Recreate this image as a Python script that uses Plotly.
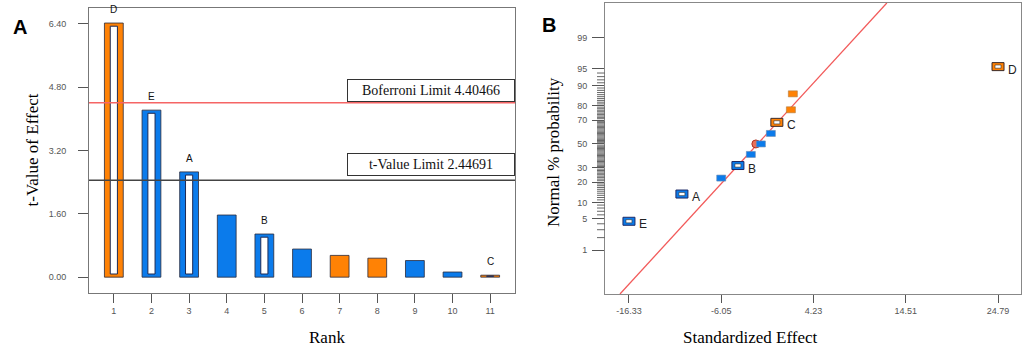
import plotly.graph_objects as go
from statistics import NormalDist

# ---------------- Panel A data (Pareto chart) ----------------
ranks = [1, 2, 3, 4, 5, 6, 7, 8, 9, 10, 11]
t_values = [6.42, 4.22, 2.66, 1.57, 1.09, 0.71, 0.55, 0.48, 0.42, 0.13, 0.05]
bar_signs = ['pos', 'neg', 'neg', 'neg', 'neg', 'neg', 'pos', 'pos', 'neg', 'neg', 'pos']
bar_labels = ['D', 'E', 'A', '', 'B', '', '', '', '', '', 'C']
bar_hollow = [True, True, True, False, True, False, False, False, False, False, True]
bonferroni_limit = 4.40466
t_limit = 2.44691
a_yticks = [0, 1.6, 3.2, 4.8, 6.4]
a_yticklabels = ['0.00', '1.60', '3.20', '4.80', '6.40']

# ---------------- Panel B data (normal plot) ----------------
effects = [-16.33, -10.43, -6.05, -4.19, -2.75, -1.63, -0.52, 0.15, 1.71, 1.93, 24.79]
effect_prob = [4.5, 13.6, 22.7, 31.8, 40.9, 50.0, 59.1, 68.2, 77.3, 86.4, 95.5]
effect_signs = ['neg', 'neg', 'neg', 'neg', 'neg', 'neg', 'neg', 'pos', 'pos', 'pos', 'pos']
effect_labels = ['E', 'A', '', 'B', '', '', '', 'C', '', '', 'D']
center_effect = -2.19
center_prob = 50.0
fit_mean = -2.0
fit_sd = 4.66
b_xticks = [-16.33, -6.05, 4.23, 14.51, 24.79]
b_xticklabels = ['-16.33', '-6.05', '4.23', '14.51', '24.79']
b_prob_ticks = [1, 5, 10, 20, 30, 50, 70, 80, 90, 95, 99]
b_minor_probs = [2, 3, 4] + list(range(6, 10)) + list(range(11, 20)) + list(range(21, 30)) + \
    list(range(31, 50)) + list(range(51, 70)) + list(range(71, 80)) + list(range(81, 90)) + \
    list(range(91, 95))

ORANGE = '#FF8205'
BLUE = '#0B7BEB'
EDGE = '#2a2a3a'
colmap = {'pos': ORANGE, 'neg': BLUE}

nd = NormalDist()
def zq(p):
    return nd.inv_cdf(p / 100.0)

W, H = 1024, 360
def px_x(p):
    return p / W
def px_y(p):
    return 1 - p / H

fig = go.Figure()

# ---- Panel A bars ----
fig.add_trace(go.Bar(
    x=ranks, y=t_values, width=0.5,
    marker=dict(color=[colmap[s] for s in bar_signs], line=dict(color=EDGE, width=0.8)),
    xaxis='x', yaxis='y', showlegend=False, hoverinfo='x+y'))

hx, hbase, hh = [], [], []
for r, v, h in zip(ranks, t_values, bar_hollow):
    if h:
        b = min(0.08, v * 0.4)
        hx.append(r)
        hbase.append(b)
        hh.append(max(v - 2 * b, 0.005))
fig.add_trace(go.Bar(
    x=hx, y=hh, base=hbase, width=0.19,
    marker=dict(color='white', line=dict(color='#1d2a55', width=1)),
    xaxis='x', yaxis='y', showlegend=False, hoverinfo='skip'))

annotations = []
for r, v, lab in zip(ranks, t_values, bar_labels):
    if lab:
        annotations.append(dict(x=r, y=v, xref='x', yref='y', text=lab, showarrow=False,
                                yanchor='bottom', yshift=6,
                                font=dict(family='Arial', size=10, color='#111')))

shapes = []
shapes.append(dict(type='line', xref='x domain', yref='y', x0=0, x1=1,
                   y0=bonferroni_limit, y1=bonferroni_limit,
                   line=dict(color='#F56565', width=1.5)))
shapes.append(dict(type='line', xref='x domain', yref='y', x0=0, x1=1,
                   y0=t_limit, y1=t_limit,
                   line=dict(color='#444444', width=1.5)))

annotations.append(dict(x=1, xref='x domain', y=bonferroni_limit, yref='y',
                        xanchor='right', yanchor='bottom', yshift=1,
                        text='Boferroni Limit 4.40466', showarrow=False,
                        width=160, borderpad=3, borderwidth=1, bordercolor='#333',
                        bgcolor='white', align='center',
                        font=dict(family='Liberation Serif', size=14, color='#111')))
annotations.append(dict(x=1, xref='x domain', y=t_limit, yref='y',
                        xanchor='right', yanchor='bottom', yshift=4,
                        text='t-Value Limit 2.44691', showarrow=False,
                        width=160, borderpad=3, borderwidth=1, bordercolor='#333',
                        bgcolor='white', align='center',
                        font=dict(family='Liberation Serif', size=14, color='#111')))

# ---- Panel B ----
zr = [-3.29, 3.09]
fig.add_trace(go.Scatter(
    x=[fit_mean + fit_sd * z for z in zr], y=zr, mode='lines',
    line=dict(color='#F25A5A', width=1.3), xaxis='x2', yaxis='y2',
    showlegend=False, hoverinfo='skip'))
fig.add_trace(go.Scatter(
    x=[center_effect], y=[zq(center_prob)], mode='markers',
    marker=dict(symbol='circle', size=8, color='#E8705A', line=dict(color='#B03020', width=1)),
    xaxis='x2', yaxis='y2', showlegend=False, hoverinfo='skip'))
ez = [zq(p) for p in effect_prob]
fig.add_trace(go.Scatter(
    x=effects, y=ez, mode='markers',
    marker=dict(symbol='square', size=6, color=[colmap[s] for s in effect_signs], opacity=0),
    xaxis='x2', yaxis='y2', showlegend=False, hoverinfo='x+y'))

# minor tick comb on the probability axis
for p in b_minor_probs:
    zp = zq(p)
    shapes.append(dict(type='line', xref='x2 domain', yref='y2', xsizemode='pixel',
                       xanchor=0, x0=-8, x1=0, y0=zp, y1=zp,
                       line=dict(color='#666', width=1)))

for e, z, s, lab in zip(effects, ez, effect_signs, effect_labels):
    c = colmap[s]
    if lab:
        shapes.append(dict(type='rect', xref='x2', yref='y2', xsizemode='pixel', ysizemode='pixel',
                           xanchor=e, yanchor=z, x0=-6, x1=6, y0=-4, y1=4,
                           fillcolor=c, line=dict(color='#3a2a2a' if s == 'pos' else '#1d2a66', width=1)))
        shapes.append(dict(type='rect', xref='x2', yref='y2', xsizemode='pixel', ysizemode='pixel',
                           xanchor=e, yanchor=z, x0=-3, x1=3, y0=-1.6, y1=1.6,
                           fillcolor='white', line=dict(color='#333', width=0.6)))
        annotations.append(dict(x=e, y=z, xref='x2', yref='y2', text=lab, showarrow=False,
                                xanchor='left', yanchor='middle', xshift=8, yshift=-3,
                                font=dict(family='Arial', size=12, color='#222')))
    else:
        shapes.append(dict(type='rect', xref='x2', yref='y2', xsizemode='pixel', ysizemode='pixel',
                           xanchor=e, yanchor=z, x0=-4.5, x1=4.5, y0=-3, y1=3,
                           fillcolor=c, line=dict(color='#6a8ab0' if s == 'neg' else '#b07a40', width=0.6)))

# titles & panel letters
annotations += [
    dict(x=px_x(11), y=px_y(14), xref='paper', yref='paper', text='<b>A</b>', showarrow=False,
         font=dict(family='Arial', size=20, color='black')),
    dict(x=px_x(549), y=px_y(12), xref='paper', yref='paper', text='<b>B</b>', showarrow=False,
         font=dict(family='Arial', size=20, color='black')),
    dict(x=px_x(20), y=px_y(150), xref='paper', yref='paper', text='t-Value of Effect', showarrow=False,
         textangle=-90, font=dict(family='Liberation Serif', size=17, color='black')),
    dict(x=px_x(307), y=px_y(349), xref='paper', yref='paper', text='Rank', showarrow=False,
         font=dict(family='Liberation Serif', size=17, color='black')),
    dict(x=px_x(553), y=px_y(152), xref='paper', yref='paper', text='Normal % probability', showarrow=False,
         textangle=-90, font=dict(family='Liberation Serif', size=17, color='black')),
    dict(x=px_x(819), y=px_y(349), xref='paper', yref='paper', text='Standardized Effect', showarrow=False,
         font=dict(family='Liberation Serif', size=17, color='black')),
]

tickfont = dict(family='Arial', size=9, color='#555')
b_dom_y = [px_y(294), px_y(3)]

fig.update_layout(
    width=W, height=H, margin=dict(l=0, r=0, t=0, b=0),
    paper_bgcolor='white', plot_bgcolor='white',
    barmode='overlay', showlegend=False,
    xaxis=dict(domain=[px_x(89), px_x(515)], range=[0.34, 11.66], tickvals=ranks,
               ticktext=[str(r) for r in ranks], ticks='outside', ticklen=9, tickcolor='#555',
               showline=True, linecolor='#777', mirror=True, showgrid=False, zeroline=False,
               tickfont=tickfont, anchor='y'),
    yaxis=dict(domain=[px_y(293), px_y(8)], range=[-0.40, 6.80], tickvals=a_yticks,
               ticktext=a_yticklabels, ticks='outside', ticklen=10, tickcolor='#555',
               showline=True, linecolor='#777', mirror=True, showgrid=False, zeroline=False,
               tickfont=tickfont, ticklabelstandoff=10, anchor='x'),
    xaxis2=dict(domain=[px_x(605), px_x(1021)], range=[-19.0, 27.35], tickvals=b_xticks,
                ticktext=b_xticklabels, ticks='outside', ticklen=8, tickcolor='#555',
                showline=True, linecolor='#888', mirror=True, showgrid=False, zeroline=False,
                tickfont=tickfont, anchor='y2'),
    yaxis2=dict(domain=b_dom_y, range=zr, tickvals=[zq(p) for p in b_prob_ticks],
                ticktext=[str(p) for p in b_prob_ticks], ticks='outside', ticklen=12, tickcolor='#555',
                showline=True, linecolor='#888', mirror=True, showgrid=False, zeroline=False,
                tickfont=tickfont, ticklabelstandoff=3, anchor='x2'),
    shapes=shapes, annotations=annotations,
)

fig.write_html('out.html', config={'displayModeBar': False},
               post_script="document.body.style.margin='0';document.body.style.padding='0';")
